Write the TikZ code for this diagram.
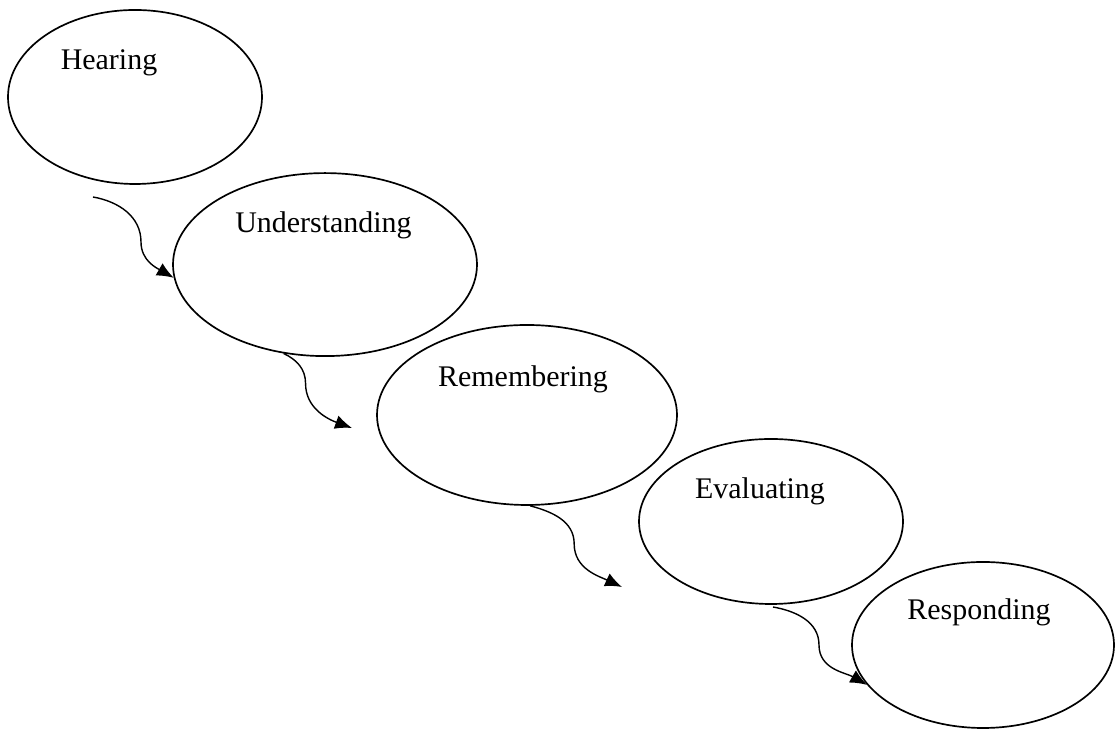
\documentclass[tikz,border=0pt]{standalone}
\usepackage{fontspec}
\setmainfont{Liberation Serif}
\usetikzlibrary{shapes.geometric,arrows.meta}

\begin{document}
\begin{tikzpicture}[scale=1,
  stage/.style={draw,ellipse,line width=1.2pt,inner sep=0pt},
  word/.style={anchor=base,font=\fontsize{21.3}{26}\selectfont},
  flow/.style={line width=1pt,-{Latex[length=12pt,width=10pt]}}]
\useasboundingbox (0,0) rectangle (27.875,18.225);

\node[stage,minimum width=6.35cm,minimum height=4.35cm] (hear) at (3.375,15.8) {};
\node[stage,minimum width=7.6cm,minimum height=4.575cm] (under) at (8.125,11.61) {};
\node[stage,minimum width=7.5cm,minimum height=4.5cm] (remem) at (13.175,7.85) {};
\node[stage,minimum width=6.6cm,minimum height=4.125cm] (eval) at (19.275,5.1875) {};
\node[stage,minimum width=6.55cm,minimum height=4.15cm] (resp) at (24.575,2.1) {};

\node[word] (hearT) at (2.725,16.475) {Hearing};
\node[word] (underT) at (8.0875,12.4) {Understanding};
\node[word] (rememT) at (13.075,8.55) {Remembering};
\node[word] (evalT) at (19.0,5.75) {Evaluating};
\node[word] (respT) at (24.475,2.725) {Responding};

\coordinate (a1) at (2.325,13.3);
\coordinate (a2) at (8.8,7.525);
\coordinate (a3) at (15.55,3.55);
\coordinate (a4) at (19.325,3.05);
%\draw[flow] (hear) -- (under);
\draw[flow] (a1) to[out=-10,in=90] ++(1.2,-1.125) to[out=-90,in=150] (under.185);
\draw[flow] (under.245) to[out=-25,in=90] ++(0.55,-0.75) to[out=-90,in=160] (a2);
\draw[flow] (remem.272) to[out=-15,in=90] ++(1.1,-0.95) to[out=-90,in=155] (a3);
\draw[flow] (a4) to[out=-10,in=90] ++(1.15,-0.95) to[out=-90,in=150] (resp.199);
\end{tikzpicture}
\end{document}
